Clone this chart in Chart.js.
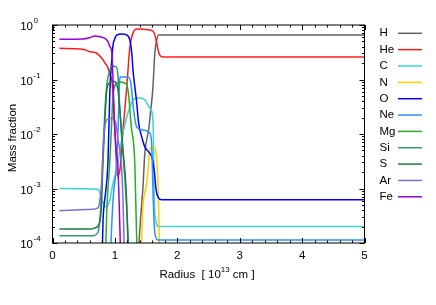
<!DOCTYPE html>
<html>
<head>
<meta charset="utf-8">
<script src="https://cdn.jsdelivr.net/npm/chart.js@4.4.0/dist/chart.umd.min.js"></script>
<style>
  html, body { margin: 0; padding: 0; background: #fff; }
</style>
</head>
<body>
<canvas id="myChart" width="436" height="305"></canvas>
<script>
// element names and line colours
const species = ["H", "He", "C", "N", "O", "Ne", "Mg", "Si", "S", "Ar", "Fe"];
const colors = ["#606060", "#ff1a1a", "#3cd4d4", "#ffcc00", "#0000ff", "#2a90ff",
                "#22b022", "#2e9e70", "#1a8040", "#7f6bd6", "#9900dd"];

// radius [1e13 cm] and mass fraction, one pair per element
const hR  = [1.36, 1.39, 1.41, 1.45, 1.48, 1.54, 1.57, 1.61, 1.64, 1.67, 1.70, 5];
const hX  = [1e-5, 1.13e-4, 2.64e-4, 1.07e-3, 4.5e-3, 0.0118, 0.0243, 0.073, 0.306, 0.531, 0.655, 0.655];

const heR = [0.11, 0.49, 0.60, 0.71, 0.79, 0.84, 0.89, 0.92, 0.95, 0.97, 1.00, 1.04, 1.08, 1.13, 1.19, 1.24, 1.29, 1.35, 1.56, 1.63, 1.67, 1.70, 1.73, 1.78, 5];
const heX = [0.373, 0.358, 0.324, 0.303, 0.245, 0.201, 0.163, 0.121, 0.098, 0.052, 0.0118, 0.0017, 0.0022, 0.0118, 0.073, 0.395, 0.713, 0.845, 0.81, 0.713, 0.467, 0.32, 0.27, 0.259, 0.259];

const cR  = [0.11, 0.73, 0.81, 0.84, 0.89, 0.92, 0.97, 1.03, 1.08, 1.13, 1.19, 1.24, 1.31, 1.40, 1.48, 1.54, 1.57, 1.61, 1.62, 1.63, 1.66, 1.70, 5];
const cX  = [0.001, 0.00097, 0.00054, 0.00046, 0.0005, 0.00062, 0.00126, 0.0022, 0.0051, 0.0104, 0.0205, 0.0313, 0.044, 0.046, 0.042, 0.0327, 0.0288, 0.0181, 0.0051, 0.00062, 0.000243, 0.0002, 0.0002];

const nR  = [1.40, 1.45, 1.48, 1.51, 1.54, 1.55, 1.59, 1.63, 1.66, 1.68, 1.70, 1.71, 1.72];
const nX  = [1e-5, 0.00047, 0.00083, 0.00126, 0.0029, 0.0045, 0.0058, 0.0058, 0.0045, 0.0022, 0.00054, 0.000113, 1e-5];

const oR  = [0.78, 0.81, 0.83, 0.85, 0.89, 0.92, 0.95, 0.97, 0.99, 1.03, 1.11, 1.19, 1.24, 1.27, 1.29, 1.32, 1.35, 1.38, 1.43, 1.48, 1.54, 1.59, 1.63, 1.66, 1.70, 1.75, 5];
const oX  = [1e-5, 0.000264, 0.00054, 0.00083, 0.0033, 0.064, 0.228, 0.43, 0.531, 0.655, 0.684, 0.655, 0.531, 0.306, 0.149, 0.073, 0.037, 0.016, 0.0088, 0.0058, 0.0047, 0.0038, 0.0022, 0.00094, 0.00067, 0.00062, 0.00062];

const neR = [0.90, 0.97, 1.03, 1.06, 1.07, 1.09, 1.21, 1.26, 1.29, 1.35, 1.45, 1.56, 1.59, 1.61, 1.63, 1.66, 1.69, 5];
const neX = [1e-5, 0.00062, 0.0033, 0.0276, 0.079, 0.111, 0.111, 0.079, 0.034, 0.0134, 0.0118, 0.0104, 0.0063, 0.00094, 0.000214, 0.000124, 0.000113, 0.000113];

const mgR = [0.83, 0.87, 0.92, 0.95, 0.97, 1.02, 1.08, 1.18, 1.22, 1.26, 1.32, 1.37];
const mgX = [1e-5, 0.0004, 0.0033, 0.0181, 0.052, 0.083, 0.09, 0.083, 0.052, 0.0146, 0.0027, 1e-5];

const siR = [0.11, 0.65, 0.73, 0.78, 0.81, 0.84, 0.87, 0.91, 0.95, 1.02, 1.05, 1.07, 1.10, 1.15, 1.19, 1.25];
const siX = [0.000136, 0.000136, 0.000159, 0.00062, 0.0051, 0.0276, 0.079, 0.137, 0.177, 0.17, 0.116, 0.042, 0.0118, 0.0022, 0.0004, 1e-5];

const sR  = [0.11, 0.63, 0.68, 0.73, 0.78, 0.81, 0.84, 0.87, 0.91, 0.97, 1.02, 1.05, 1.08, 1.13, 1.18, 1.24];
const sX  = [0.000181, 0.000181, 0.00019, 0.000205, 0.0004, 0.0033, 0.0181, 0.064, 0.086, 0.094, 0.086, 0.064, 0.0276, 0.0051, 0.00094, 1e-5];

const arR = [0.11, 0.57, 0.73, 0.76, 0.79, 0.81, 0.84, 0.89, 0.97, 1.02, 1.05, 1.10, 1.13, 1.17];
const arX = [0.00039, 0.00041, 0.00044, 0.00062, 0.00143, 0.0051, 0.0146, 0.0188, 0.0197, 0.0146, 0.0078, 0.0033, 0.00062, 1e-5];

const feR = [0.11, 0.49, 0.60, 0.68, 0.76, 0.84, 0.89, 0.92, 0.95, 0.97, 0.99, 1.02, 1.05, 1.11];
const feX = [0.547, 0.553, 0.585, 0.628, 0.61, 0.57, 0.494, 0.40, 0.32, 0.098, 0.0181, 0.0051, 0.0022, 1e-5];

const radii = [hR, heR, cR, nR, oR, neR, mgR, siR, sR, arR, feR];
const fractions = [hX, heX, cX, nX, oX, neX, mgX, siX, sX, arX, feX];

// axis ticks
const xTicks = [0, 1, 2, 3, 4, 5];
const yExponents = [0, -1, -2, -3, -4];

const FONT = "'Liberation Sans', Arial, sans-serif";

function zip(xs, ys) {
  return xs.map((v, i) => ({ x: v, y: ys[i] }));
}

const datasets = species.map((name, i) => ({
  label: name,
  data: zip(radii[i], fractions[i]),
  borderColor: colors[i],
  borderWidth: 1.5,
  pointRadius: 0,
  fill: false,
  cubicInterpolationMode: "monotone",
  order: species.length - i,
}));

function seg(ctx, x1, y1, x2, y2) {
  ctx.beginPath();
  ctx.moveTo(x1, y1);
  ctx.lineTo(x2, y2);
  ctx.stroke();
}

// gnuplot-like frame, inward ticks, labels and key
const frame = {
  id: "frame",
  afterDraw(chart) {
    const { ctx, chartArea: a, scales } = chart;
    const x = scales.x, y = scales.y;
    ctx.save();
    ctx.strokeStyle = "#000";
    ctx.lineWidth = 1;
    ctx.strokeRect(a.left, a.top, a.right - a.left, a.bottom - a.top);

    // x ticks (minor every 0.2)
    for (let k = 0; k <= 25; k++) {
      const v = k * 0.2;
      const px = Math.round(x.getPixelForValue(v)) + 0.5;
      const len = k % 5 === 0 ? 5 : 2.5;
      seg(ctx, px, a.bottom, px, a.bottom - len);
      seg(ctx, px, a.top, px, a.top + len);
    }
    // y ticks (log minors)
    for (let e = -4; e <= 0; e++) {
      for (let m = 1; m <= 9; m++) {
        const v = m * Math.pow(10, e);
        if (v > 1.0001) break;
        const py = Math.round(y.getPixelForValue(v)) + 0.5;
        const len = m === 1 ? 5 : 2.5;
        seg(ctx, a.left, py, a.left + len, py);
        seg(ctx, a.right, py, a.right - len, py);
      }
    }

    ctx.fillStyle = "#000";
    ctx.textBaseline = "middle";

    // x tick labels
    ctx.font = "11.5px " + FONT;
    ctx.textAlign = "center";
    xTicks.forEach(v => ctx.fillText(String(v), x.getPixelForValue(v), a.bottom + 13));

    // y tick labels 10^n
    yExponents.forEach(e => {
      const py = y.getPixelForValue(Math.pow(10, e));
      ctx.font = "11.5px " + FONT;
      ctx.textAlign = "right";
      ctx.fillText("10", 33, py + 2);
      ctx.font = "8px " + FONT;
      ctx.textAlign = "left";
      ctx.fillText(String(e), 33.5, py - 4);
    });

    // x axis title with superscript
    const parts = [["Radius  [ 10", "11.5px ", 0], ["13", "8px ", -5], [" cm ]", "11.5px ", 0]];
    let total = 0;
    parts.forEach(p => { ctx.font = p[1] + FONT; total += ctx.measureText(p[0]).width; });
    let cx = 207 - total / 2;
    ctx.textAlign = "left";
    parts.forEach(p => {
      ctx.font = p[1] + FONT;
      ctx.fillText(p[0], cx, 275 + p[2]);
      cx += ctx.measureText(p[0]).width;
    });

    // y axis title
    ctx.save();
    ctx.translate(13, 138);
    ctx.rotate(-Math.PI / 2);
    ctx.font = "11.5px " + FONT;
    ctx.textAlign = "center";
    ctx.fillText("Mass fraction", 0, 0);
    ctx.restore();

    // key
    species.forEach((name, i) => {
      const ry = 33.3 + 16.35 * i;
      ctx.font = "11.5px " + FONT;
      ctx.textAlign = "left";
      ctx.fillStyle = "#000";
      ctx.fillText(name, 379.5, ry);
      ctx.strokeStyle = colors[i];
      ctx.lineWidth = 1.5;
      seg(ctx, 398, ry, 422, ry);
    });
    ctx.restore();
  },
};

new Chart(document.getElementById("myChart"), {
  type: "line",
  data: { datasets: datasets },
  options: {
    responsive: false,
    animation: false,
    layout: { padding: { left: 52.5, right: 71.5, top: 25, bottom: 62 } },
    plugins: { legend: { display: false }, tooltip: { enabled: false } },
    scales: {
      x: { type: "linear", min: 0, max: 5, display: false },
      y: { type: "logarithmic", min: 1e-4, max: 1, display: false },
    },
  },
  plugins: [frame],
});
</script>
</body>
</html>
